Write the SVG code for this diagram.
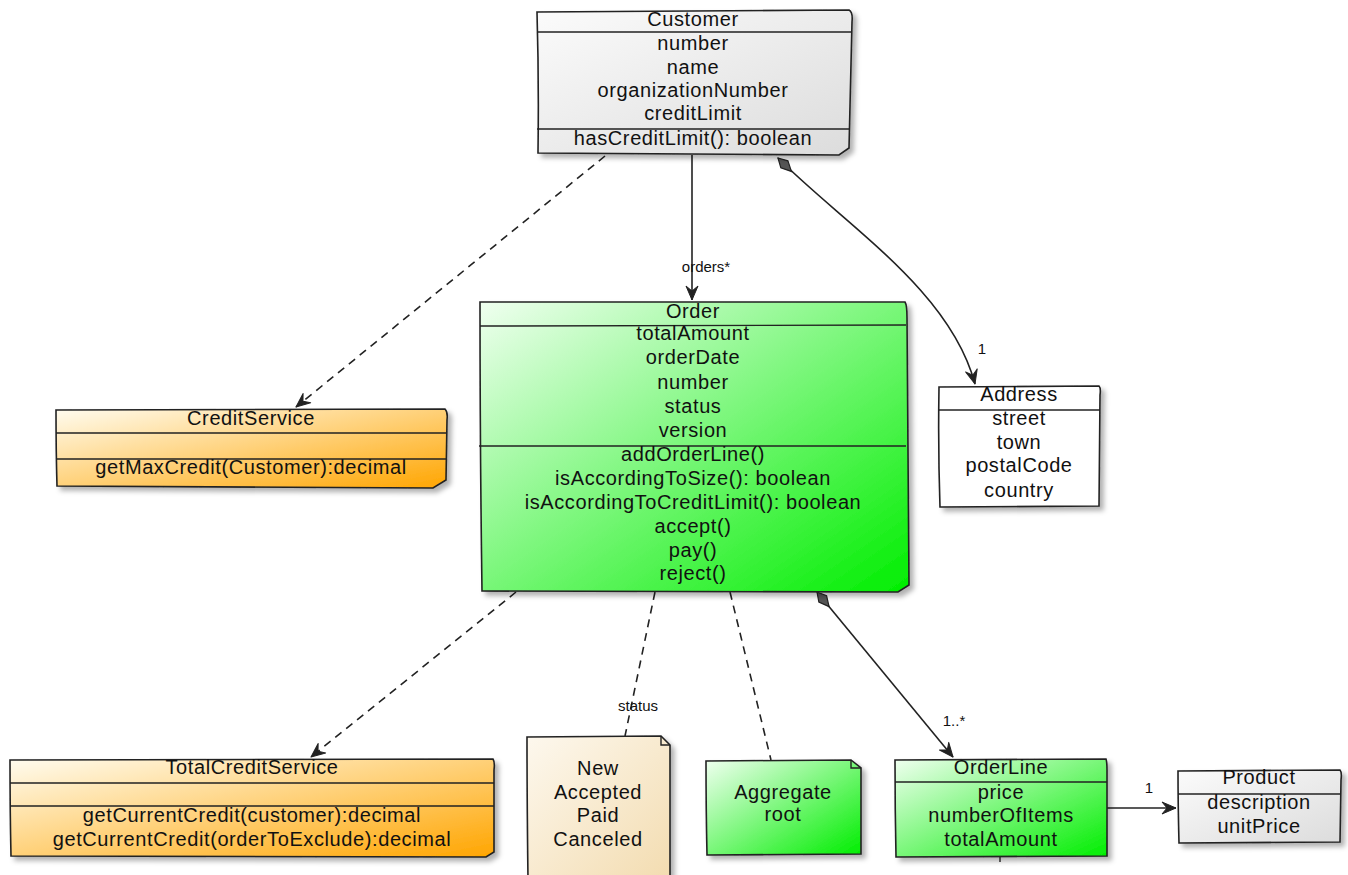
<svg xmlns="http://www.w3.org/2000/svg" width="1348" height="875" viewBox="0 0 1348 875">
  <defs>
    <linearGradient id="gGray" x1="0" y1="0" x2="1" y2="1">
      <stop offset="0" stop-color="#fbfbfb"/>
      <stop offset="1" stop-color="#dcdcdc"/>
    </linearGradient>
    <linearGradient id="gGreen" x1="0" y1="0" x2="1" y2="1">
      <stop offset="0" stop-color="#f0fff0"/>
      <stop offset="1" stop-color="#00ee00"/>
    </linearGradient>
    <linearGradient id="gOrange" x1="0" y1="0" x2="1" y2="1">
      <stop offset="0" stop-color="#fffcf0"/>
      <stop offset="1" stop-color="#ffa500"/>
    </linearGradient>
    <linearGradient id="gNote" x1="0" y1="0" x2="1" y2="1">
      <stop offset="0" stop-color="#fdf8ee"/>
      <stop offset="1" stop-color="#f3dcb0"/>
    </linearGradient>
    <filter id="shadow" x="-10%" y="-10%" width="130%" height="130%">
      <feDropShadow dx="4" dy="4" stdDeviation="2.5" flood-color="#000" flood-opacity="0.3"/>
    </filter>
    <marker id="arrow" viewBox="0 0 16 14" refX="15" refY="7" markerWidth="16" markerHeight="14" orient="auto" markerUnits="userSpaceOnUse">
      <path d="M1,1 L15,7 L1,13 L6,7 Z" fill="#222" stroke="#222" stroke-width="1" stroke-linejoin="round"/>
    </marker>
    <marker id="diamond" viewBox="0 0 22 12" refX="1" refY="6" markerWidth="22" markerHeight="12" orient="auto" markerUnits="userSpaceOnUse">
      <path d="M1,6 L10,1 L20,6 L10,11 Z" fill="#555" stroke="#222" stroke-width="1.2"/>
    </marker>
  </defs>
  <style>
    .box { stroke: #222; stroke-width: 1.6; filter: url(#shadow); }
    .sep { stroke: #222; stroke-width: 1.4; fill: none; }
    .t { font-family: "Liberation Sans", Arial, sans-serif; font-size: 20px; letter-spacing: 0.6px; fill: #111; text-anchor: middle; }
    .lbl { font-family: "Liberation Sans", Arial, sans-serif; font-size: 15px; fill: #111; text-anchor: middle; }
    .link { stroke: #222; stroke-width: 1.6; fill: none; }
    .dash { stroke-dasharray: 8 6; }
  </style>
  <rect width="1348" height="875" fill="#fff"/>

  <!-- connectors -->
  <g id="connectors">
    <path class="link" d="M692,155 L692,300" marker-end="url(#arrow)"/>
    <text class="lbl" x="706" y="272">orders*</text>
    <path class="link dash" d="M605,156 L296,407" marker-end="url(#arrow)"/>
    <path class="link" d="M778,158 C845,225 950,290 975,384" marker-start="url(#diamond)" marker-end="url(#arrow)"/>
    <text class="lbl" x="982" y="354">1</text>
    <path class="link dash" d="M516,592 L311,757" marker-end="url(#arrow)"/>
    <path class="link dash" d="M655,592 L625,736"/>
    <text class="lbl" x="638" y="711">status</text>
    <path class="link dash" d="M730,592 L771,760"/>
    <path class="link" d="M817,592 L953,757" marker-start="url(#diamond)" marker-end="url(#arrow)"/>
    <text class="lbl" x="954" y="726">1..*</text>
    <path class="link" d="M1107,808 L1176,808" marker-end="url(#arrow)"/>
    <text class="lbl" x="1149" y="793">1</text>
  </g>

  <!-- Customer -->
  <g id="customer">
    <path class="box" fill="url(#gGray)" d="M537,12 L849,10 Q853,12 852,22 L849,148 L839,155 L538,153 Q539,80 537,12 Z"/>
    <path class="sep" d="M537,32 L851,32 M537,129 L850,129"/>
    <text class="t" x="693" y="26">Customer</text>
    <text class="t" x="693" y="50">number</text>
    <text class="t" x="693" y="74">name</text>
    <text class="t" x="693" y="97">organizationNumber</text>
    <text class="t" x="693" y="120">creditLimit</text>
    <text class="t" x="693" y="145">hasCreditLimit(): boolean</text>
  </g>

  <!-- Order -->
  <g id="order">
    <path class="box" fill="url(#gGreen)" d="M480,302 L905,302 Q907,305 907,318 L909,585 L898,592 L482,591 Q480,450 480,302 Z"/>
    <path class="sep" d="M480,326 L906,325 M479,446 L906,446"/>
    <text class="t" x="693" y="318">Order</text>
    <text class="t" x="693" y="340">totalAmount</text>
    <text class="t" x="693" y="364">orderDate</text>
    <text class="t" x="693" y="389">number</text>
    <text class="t" x="693" y="413">status</text>
    <text class="t" x="693" y="437">version</text>
    <text class="t" x="693" y="461">addOrderLine()</text>
    <text class="t" x="693" y="485">isAccordingToSize(): boolean</text>
    <text class="t" x="693" y="509">isAccordingToCreditLimit(): boolean</text>
    <text class="t" x="693" y="533">accept()</text>
    <text class="t" x="693" y="557">pay()</text>
    <text class="t" x="693" y="580">reject()</text>
  </g>

  <!-- CreditService -->
  <g id="creditService">
    <path class="box" fill="url(#gOrange)" d="M56,410 L445,409 Q448,412 447,420 L446,480 L433,488 L57,486 Q56,450 56,410 Z"/>
    <path class="sep" d="M56,433 L447,433 M56,459 L447,459"/>
    <text class="t" x="251" y="425">CreditService</text>
    <text class="t" x="251" y="474">getMaxCredit(Customer):decimal</text>
  </g>

  <!-- Address -->
  <g id="address">
    <path class="box" fill="#ffffff" d="M939,387 L1099,386 Q1101,388 1100,395 L1099,506 L940,507 Q938,450 939,387 Z"/>
    <path class="sep" d="M939,410 L1100,410"/>
    <text class="t" x="1019" y="401">Address</text>
    <text class="t" x="1019" y="425">street</text>
    <text class="t" x="1019" y="449">town</text>
    <text class="t" x="1019" y="472">postalCode</text>
    <text class="t" x="1019" y="497">country</text>
  </g>

  <!-- TotalCreditService -->
  <g id="totalCreditService">
    <path class="box" fill="url(#gOrange)" d="M10,760 L493,759 Q495,762 494,770 L494,852 L486,857 L11,856 Q10,810 10,760 Z"/>
    <path class="sep" d="M10,783 L494,783 M10,806 L494,806"/>
    <text class="t" x="252" y="774">TotalCreditService</text>
    <text class="t" x="252" y="822">getCurrentCredit(customer):decimal</text>
    <text class="t" x="252" y="846">getCurrentCredit(orderToExclude):decimal</text>
  </g>

  <!-- status note -->
  <g id="statusNote">
    <path class="box" fill="url(#gNote)" d="M527,737 L661,736 L670,745 L670,880 L528,880 Q527,800 527,737 Z"/>
    <path class="sep" d="M661,736 L661,745 L670,745"/>
    <text class="t" x="598" y="775">New</text>
    <text class="t" x="598" y="799">Accepted</text>
    <text class="t" x="598" y="822">Paid</text>
    <text class="t" x="598" y="846">Canceled</text>
  </g>

  <!-- Aggregate root note -->
  <g id="aggregateNote">
    <path class="box" fill="url(#gGreen)" d="M706,761 L851,760 L861,768 L861,854 L707,855 Q706,810 706,761 Z"/>
    <path class="sep" d="M851,760 L851,768 L861,768"/>
    <text class="t" x="783" y="799">Aggregate</text>
    <text class="t" x="783" y="821">root</text>
  </g>

  <!-- OrderLine -->
  <g id="orderLine">
    <path class="box" fill="url(#gGreen)" d="M895,760 L1106,759 Q1107,762 1107,770 L1107,856 L896,857 Q895,810 895,760 Z"/>
    <path class="sep" d="M895,782 L1107,782 M1000,857 L1000,862"/>
    <text class="t" x="1001" y="774">OrderLine</text>
    <text class="t" x="1001" y="799">price</text>
    <text class="t" x="1001" y="822">numberOfItems</text>
    <text class="t" x="1001" y="846">totalAmount</text>
  </g>

  <!-- Product -->
  <g id="product">
    <path class="box" fill="url(#gGray)" d="M1178,771 L1340,770 Q1342,772 1341,780 L1340,842 L1179,843 Q1178,805 1178,771 Z"/>
    <path class="sep" d="M1178,794 L1341,794"/>
    <text class="t" x="1259" y="784">Product</text>
    <text class="t" x="1259" y="809">description</text>
    <text class="t" x="1259" y="833">unitPrice</text>
  </g>
</svg>
